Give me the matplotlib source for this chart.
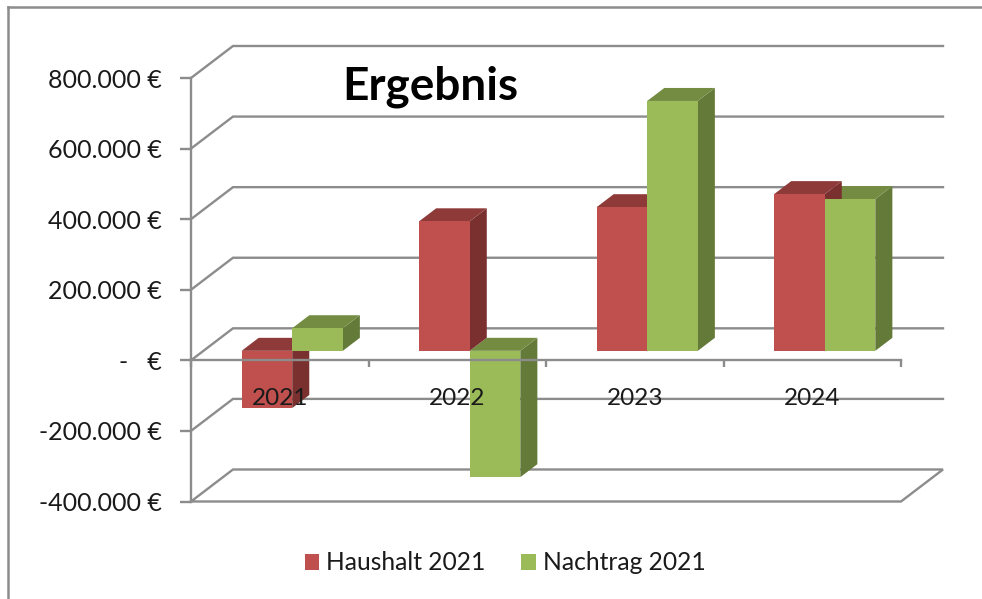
"""Excel style pseudo 3D column chart."""

import matplotlib

matplotlib.use("Agg")

import matplotlib.pyplot as plt
from matplotlib.lines import Line2D
from matplotlib.patches import Patch, Polygon

plt.rcParams["font.family"] = ["Lato", "DejaVu Sans"]

years = ["2021", "2022", "2023", "2024"]
haushalt = [-162000, 367000, 407000, 444000]
nachtrag = [64000, -358000, 708000, 430000]
y_ticks = [-400000, -200000, 0, 200000, 400000, 600000, 800000]
y_labels = ["-400.000 €", "-200.000 €", "-   €", "200.000 €", "400.000 €", "600.000 €", "800.000 €"]

W, H = 982, 599
GREY = "#8c8c8c"
TEXT = "#1a1a1a"
# oblique projection: how far one full depth unit shifts in data units
DEPTH_X = 0.2366
DEPTH_Y = 90700
BAR_WIDTH = 0.285
BAR_NEAR = 0.297
BAR_FAR = 0.703

RED = {"front": "#c0504d", "top": "#8d3a38", "side": "#7a302e"}
GREEN = {"front": "#9bbb59", "top": "#738c42", "side": "#647a39"}


def project(x, y, depth):
    return x + depth * DEPTH_X, y + depth * DEPTH_Y


def bar_faces(ax, x0, value, colors, faces, zorder):
    x1 = x0 + BAR_WIDTH
    high, low = max(value, 0), min(value, 0)
    shapes = {
        "front": [project(x0, low, BAR_NEAR), project(x1, low, BAR_NEAR),
                  project(x1, high, BAR_NEAR), project(x0, high, BAR_NEAR)],
        "top": [project(x0, high, BAR_NEAR), project(x1, high, BAR_NEAR),
                project(x1, high, BAR_FAR), project(x0, high, BAR_FAR)],
        "side": [project(x1, low, BAR_NEAR), project(x1, low, BAR_FAR),
                 project(x1, high, BAR_FAR), project(x1, high, BAR_NEAR)],
    }
    for face in faces:
        ax.add_patch(Polygon(shapes[face], closed=True, facecolor=colors[face],
                             edgecolor="none", clip_on=False, zorder=zorder))


fig = plt.figure(figsize=(W / 100, H / 100), dpi=100)
ax = fig.add_axes([191 / W, 1 - 501.5 / H, 710 / W, 423.5 / H])
ax.set_xlim(0, len(years))
ax.set_ylim(min(y_ticks), max(y_ticks))
ax.patch.set_visible(False)

# back wall gridlines and the floor
back_right = len(years) + DEPTH_X
for tick in y_ticks:
    xs = [0, DEPTH_X, back_right]
    ys = [tick, tick + DEPTH_Y, tick + DEPTH_Y]
    if tick == min(y_ticks):
        xs = xs + [len(years), 0]
        ys = ys + [tick, tick]
    ax.plot(xs, ys, color=GREY, lw=1.7, clip_on=False, zorder=1, solid_joinstyle="miter")

for i, (red, green) in enumerate(zip(haushalt, nachtrag)):
    left = i + 0.5 - BAR_WIDTH
    bar_faces(ax, left + BAR_WIDTH, green, GREEN, ["side", "top"], 1.2)
    bar_faces(ax, left, red, RED, ["side", "top", "front"], 1.3)
    bar_faces(ax, left + BAR_WIDTH, green, GREEN, ["front"], 1.4)

ax.set_axisbelow(False)
for name in ["top", "right"]:
    ax.spines[name].set_visible(False)
ax.spines["bottom"].set_position(("data", 0))
for name in ["left", "bottom"]:
    ax.spines[name].set_color(GREY)
    ax.spines[name].set_linewidth(1.7)

ax.set_yticks(y_ticks, y_labels)
ax.tick_params(axis="y", length=8, width=1.7, color=GREY, pad=13, labelsize=18, labelcolor=TEXT)
ax.set_xticks(range(len(years) + 1), [""] * (len(years) + 1))
ax.set_xticks([i + 0.5 for i in range(len(years))], years, minor=True)
ax.tick_params(axis="x", which="major", length=5, width=1.7, color=GREY)
ax.tick_params(axis="x", which="minor", length=0, pad=20, labelsize=17.5, labelcolor=TEXT)

fig.text(430 / W, 1 - 87 / H, "Ergebnis", fontsize=33, fontweight="bold", color="black",
         ha="center", va="center")

handles = [Patch(facecolor=RED["front"], label="Haushalt 2021"),
           Patch(facecolor=GREEN["front"], label="Nachtrag 2021")]
fig.legend(handles=handles, loc="center", bbox_to_anchor=(505 / W, 1 - 563 / H), ncol=2,
           frameon=False, fontsize=17.7, labelcolor=TEXT, handlelength=0.6, handleheight=0.6,
           handletextpad=0.28, columnspacing=1.44, borderpad=0, borderaxespad=0)

# outer chart frame runs off the canvas on the right and bottom
fig.add_artist(Line2D([7.5 / W, 7.5 / W], [0, 1 - 7 / H], color=GREY, lw=1.8))
fig.add_artist(Line2D([7.5 / W, 1], [1 - 7 / H, 1 - 7 / H], color=GREY, lw=1.8))

fig.savefig("out.png", dpi=100)
plt.close(fig)
